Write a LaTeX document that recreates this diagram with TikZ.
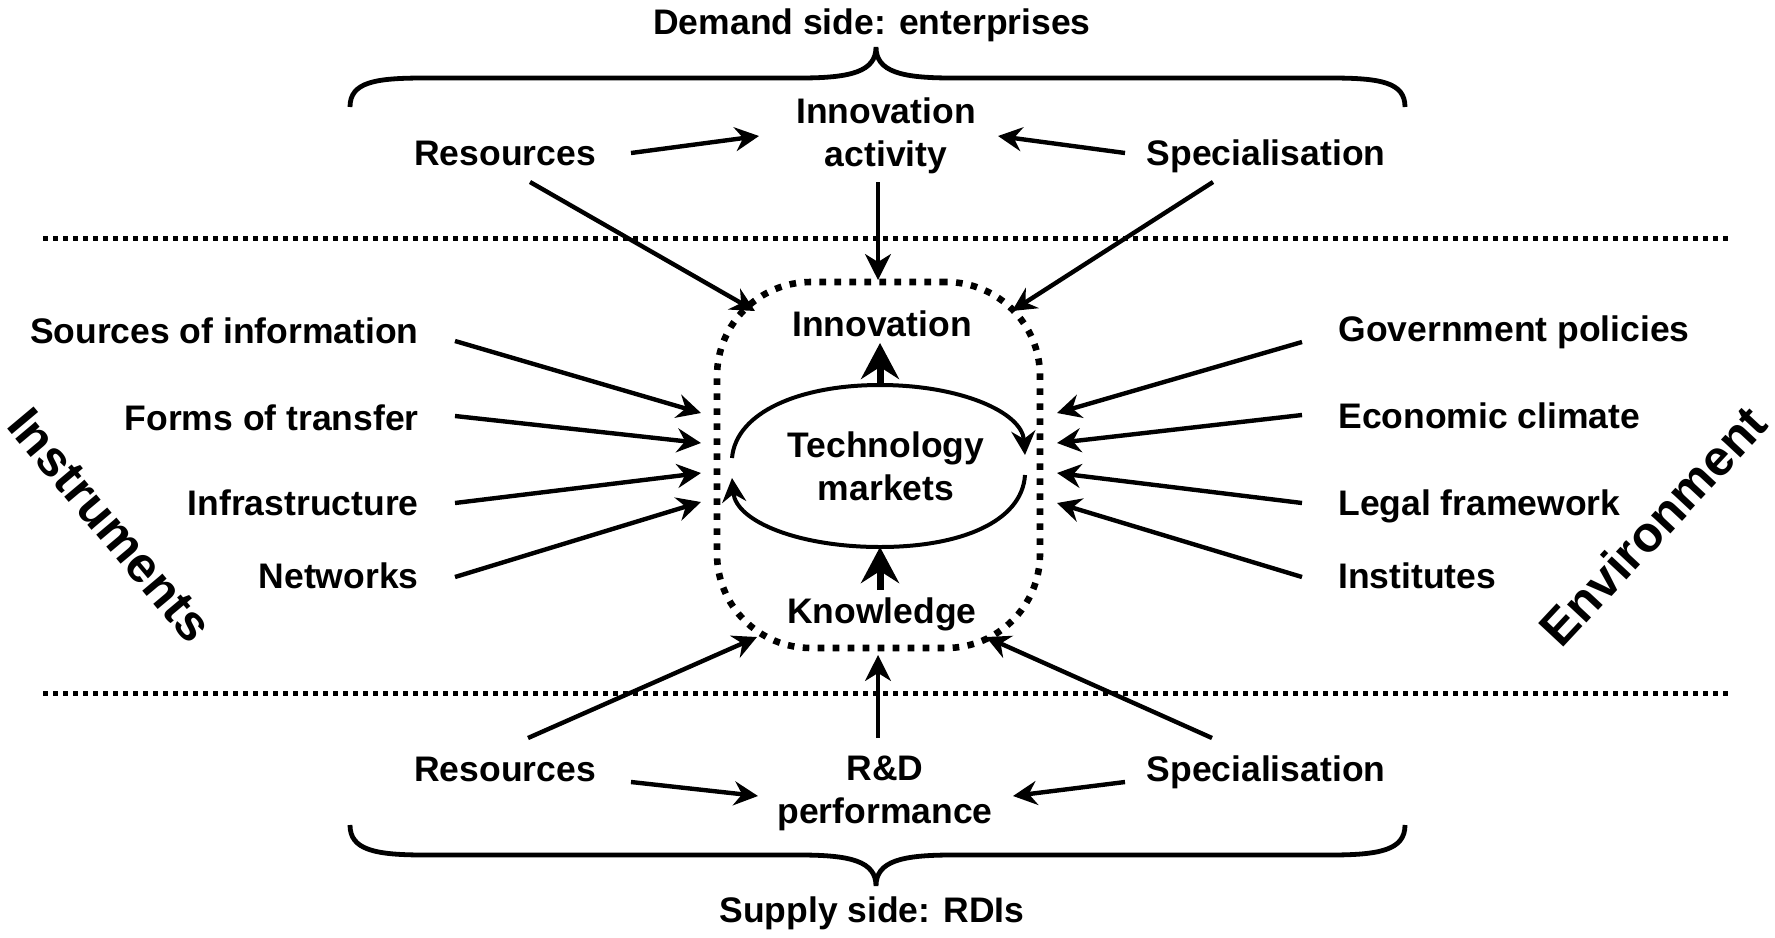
\documentclass[tikz,border=0pt]{standalone}
\usepackage{fontspec}
\setmainfont{Liberation Sans}
\usetikzlibrary{arrows.meta}
\begin{document}
\begin{tikzpicture}[x=0.5pt,y=-0.5pt,
  lbl/.style={font=\fontsize{17.75}{21.5}\selectfont\bfseries, inner sep=0pt, align=center},
  big/.style={font=\fontsize{25}{30}\selectfont\bfseries, inner sep=0pt},
  arr/.style={line width=2.2pt, -{Stealth[length=12pt,width=12pt,inset=4pt]}},
  thinarr/.style={line width=1.6pt, -{Stealth[length=13pt,width=13pt,inset=4pt]}},
  thickarr/.style={line width=3.5pt, -{Stealth[length=18pt,width=19pt,inset=6pt]}},
  sepline/.style={line width=2.5pt, dash pattern=on 2.5pt off 2.5pt},
  corebox/.style={draw, line width=3.3pt, dash pattern=on 3.3pt off 4.2pt, rounded corners=47pt},
  bracestyle/.style={line width=2.4pt},
  loopline/.style={line width=2pt}]
\useasboundingbox (0,0) rectangle (1775,937);

% separators
\draw[sepline] (43,238) -- (1732,238);
\draw[sepline] (43,693) -- (1732,693);

% braces
\draw[bracestyle] (350,107) .. controls (350,82) and (375,78) .. (425,78) -- (800,78)
  .. controls (850,78) and (876,72) .. (876,47)
  .. controls (876,72) and (902,78) .. (952,78) -- (1330,78)
  .. controls (1380,78) and (1405,82) .. (1405,107);
\draw[bracestyle] (350,825) .. controls (350,850) and (375,855) .. (425,855) -- (800,855)
  .. controls (850,855) and (876,861) .. (876,886)
  .. controls (876,861) and (902,855) .. (952,855) -- (1330,855)
  .. controls (1380,855) and (1405,850) .. (1405,825);

% texts
\node[lbl, anchor=base] (demand) at (872,34) {Demand side: enterprises};
\node[lbl] (innact) at (886,136) {Innovation\\activity};
\node[lbl, anchor=base] (res1) at (505,165) {Resources};
\node[lbl, anchor=base] (spec1) at (1266,165) {Specialisation};
\node[lbl, anchor=base] (innov) at (882,336) {Innovation};
\node[lbl] (tech) at (886,466) {Technology\\markets};
\node[lbl, anchor=base] (know) at (882,623) {Knowledge};
\node[lbl, anchor=base east] (src) at (419,343) {Sources of information};
\node[lbl, anchor=base east] (forms) at (419,430) {Forms of transfer};
\node[lbl, anchor=base east] (infra) at (419,515) {Infrastructure};
\node[lbl, anchor=base east] (netw) at (419,588) {Networks};
\node[lbl, anchor=base west] (gov) at (1338,341) {Government policies};
\node[lbl, anchor=base west] (econ) at (1338,428) {Economic climate};
\node[lbl, anchor=base west] (legal) at (1338,515) {Legal framework};
\node[lbl, anchor=base west] (inst) at (1338,588) {Institutes};
\node[lbl, anchor=base] (res2) at (505,781) {Resources};
\node[lbl] (rd) at (885,793) {R\&D\\performance};
\node[lbl, anchor=base] (spec2) at (1266,781) {Specialisation};
\node[lbl, anchor=base] (supply) at (872,922) {Supply side: RDIs};
\node[big, rotate=-50] (instr) at (110,525) {Instruments};
\node[big, rotate=47] (env) at (1653,526) {Environment};

% core box
\node[corebox, minimum width=161.5pt, minimum height=183pt] (core) at (878.5,465) {};

% coordinates
\coordinate (a1s) at (631,153); \coordinate (a1e) at (759,136);
\coordinate (a2s) at (1125,153); \coordinate (a2e) at (998,136);
\coordinate (a3s) at (878,182); \coordinate (a3e) at (878,280);
\coordinate (a4s) at (530,182); \coordinate (a4e) at (755,311);
\coordinate (a5s) at (1213,182); \coordinate (a5e) at (1012,311);
\coordinate (l1s) at (455,341); \coordinate (l1e) at (701,413);
\coordinate (l2s) at (455,416); \coordinate (l2e) at (701,443);
\coordinate (l3s) at (455,503); \coordinate (l3e) at (701,473);
\coordinate (l4s) at (455,577); \coordinate (l4e) at (701,502);
\coordinate (r1s) at (1302,342); \coordinate (r1e) at (1057,413);
\coordinate (r2s) at (1302,415); \coordinate (r2e) at (1057,443);
\coordinate (r3s) at (1302,503); \coordinate (r3e) at (1057,473);
\coordinate (r4s) at (1302,577); \coordinate (r4e) at (1057,503);
\coordinate (b1s) at (528,738); \coordinate (b1e) at (757,637);
\coordinate (b2s) at (878,738); \coordinate (b2e) at (878,655);
\coordinate (b3s) at (1212,738); \coordinate (b3e) at (986,637);
\coordinate (b4s) at (631,782); \coordinate (b4e) at (758,796);
\coordinate (b5s) at (1125,782); \coordinate (b5e) at (1013,796);
\coordinate (e1) at (732,458); \coordinate (etop) at (880,385); \coordinate (e2) at (1025,455);
\coordinate (e3) at (1025,475); \coordinate (ebot) at (880,547); \coordinate (e4) at (732,478);
\coordinate (itip) at (880,343); \coordinate (kbase) at (880,590);

% arrows
\draw[arr] (a1s) -- (a1e);
\draw[arr] (a2s) -- (a2e);
\draw[thinarr] (a3s) -- (a3e);
\draw[arr] (a4s) -- (a4e);
\draw[arr] (a5s) -- (a5e);
\draw[arr] (l1s) -- (l1e);
\draw[arr] (l2s) -- (l2e);
\draw[arr] (l3s) -- (l3e);
\draw[arr] (l4s) -- (l4e);
\draw[arr] (r1s) -- (r1e);
\draw[arr] (r2s) -- (r2e);
\draw[arr] (r3s) -- (r3e);
\draw[arr] (r4s) -- (r4e);
\draw[arr] (b1s) -- (b1e);
\draw[thinarr] (b2s) -- (b2e);
\draw[arr] (b3s) -- (b3e);
\draw[arr] (b4s) -- (b4e);
\draw[arr] (b5s) -- (b5e);

% loop
\draw[loopline, -{Stealth[length=12pt,width=12pt,inset=4pt]}] (e1) .. controls (736,412) and (800,385) .. (etop)
  .. controls (960,385) and (1022,412) .. (e2);
\draw[loopline, -{Stealth[length=12pt,width=12pt,inset=4pt]}] (e3) .. controls (1022,522) and (960,547) .. (ebot)
  .. controls (800,547) and (736,522) .. (e4);
\draw[thickarr] (etop) -- (itip);
\draw[thickarr] (kbase) -- (ebot);
\end{tikzpicture}
\end{document}
